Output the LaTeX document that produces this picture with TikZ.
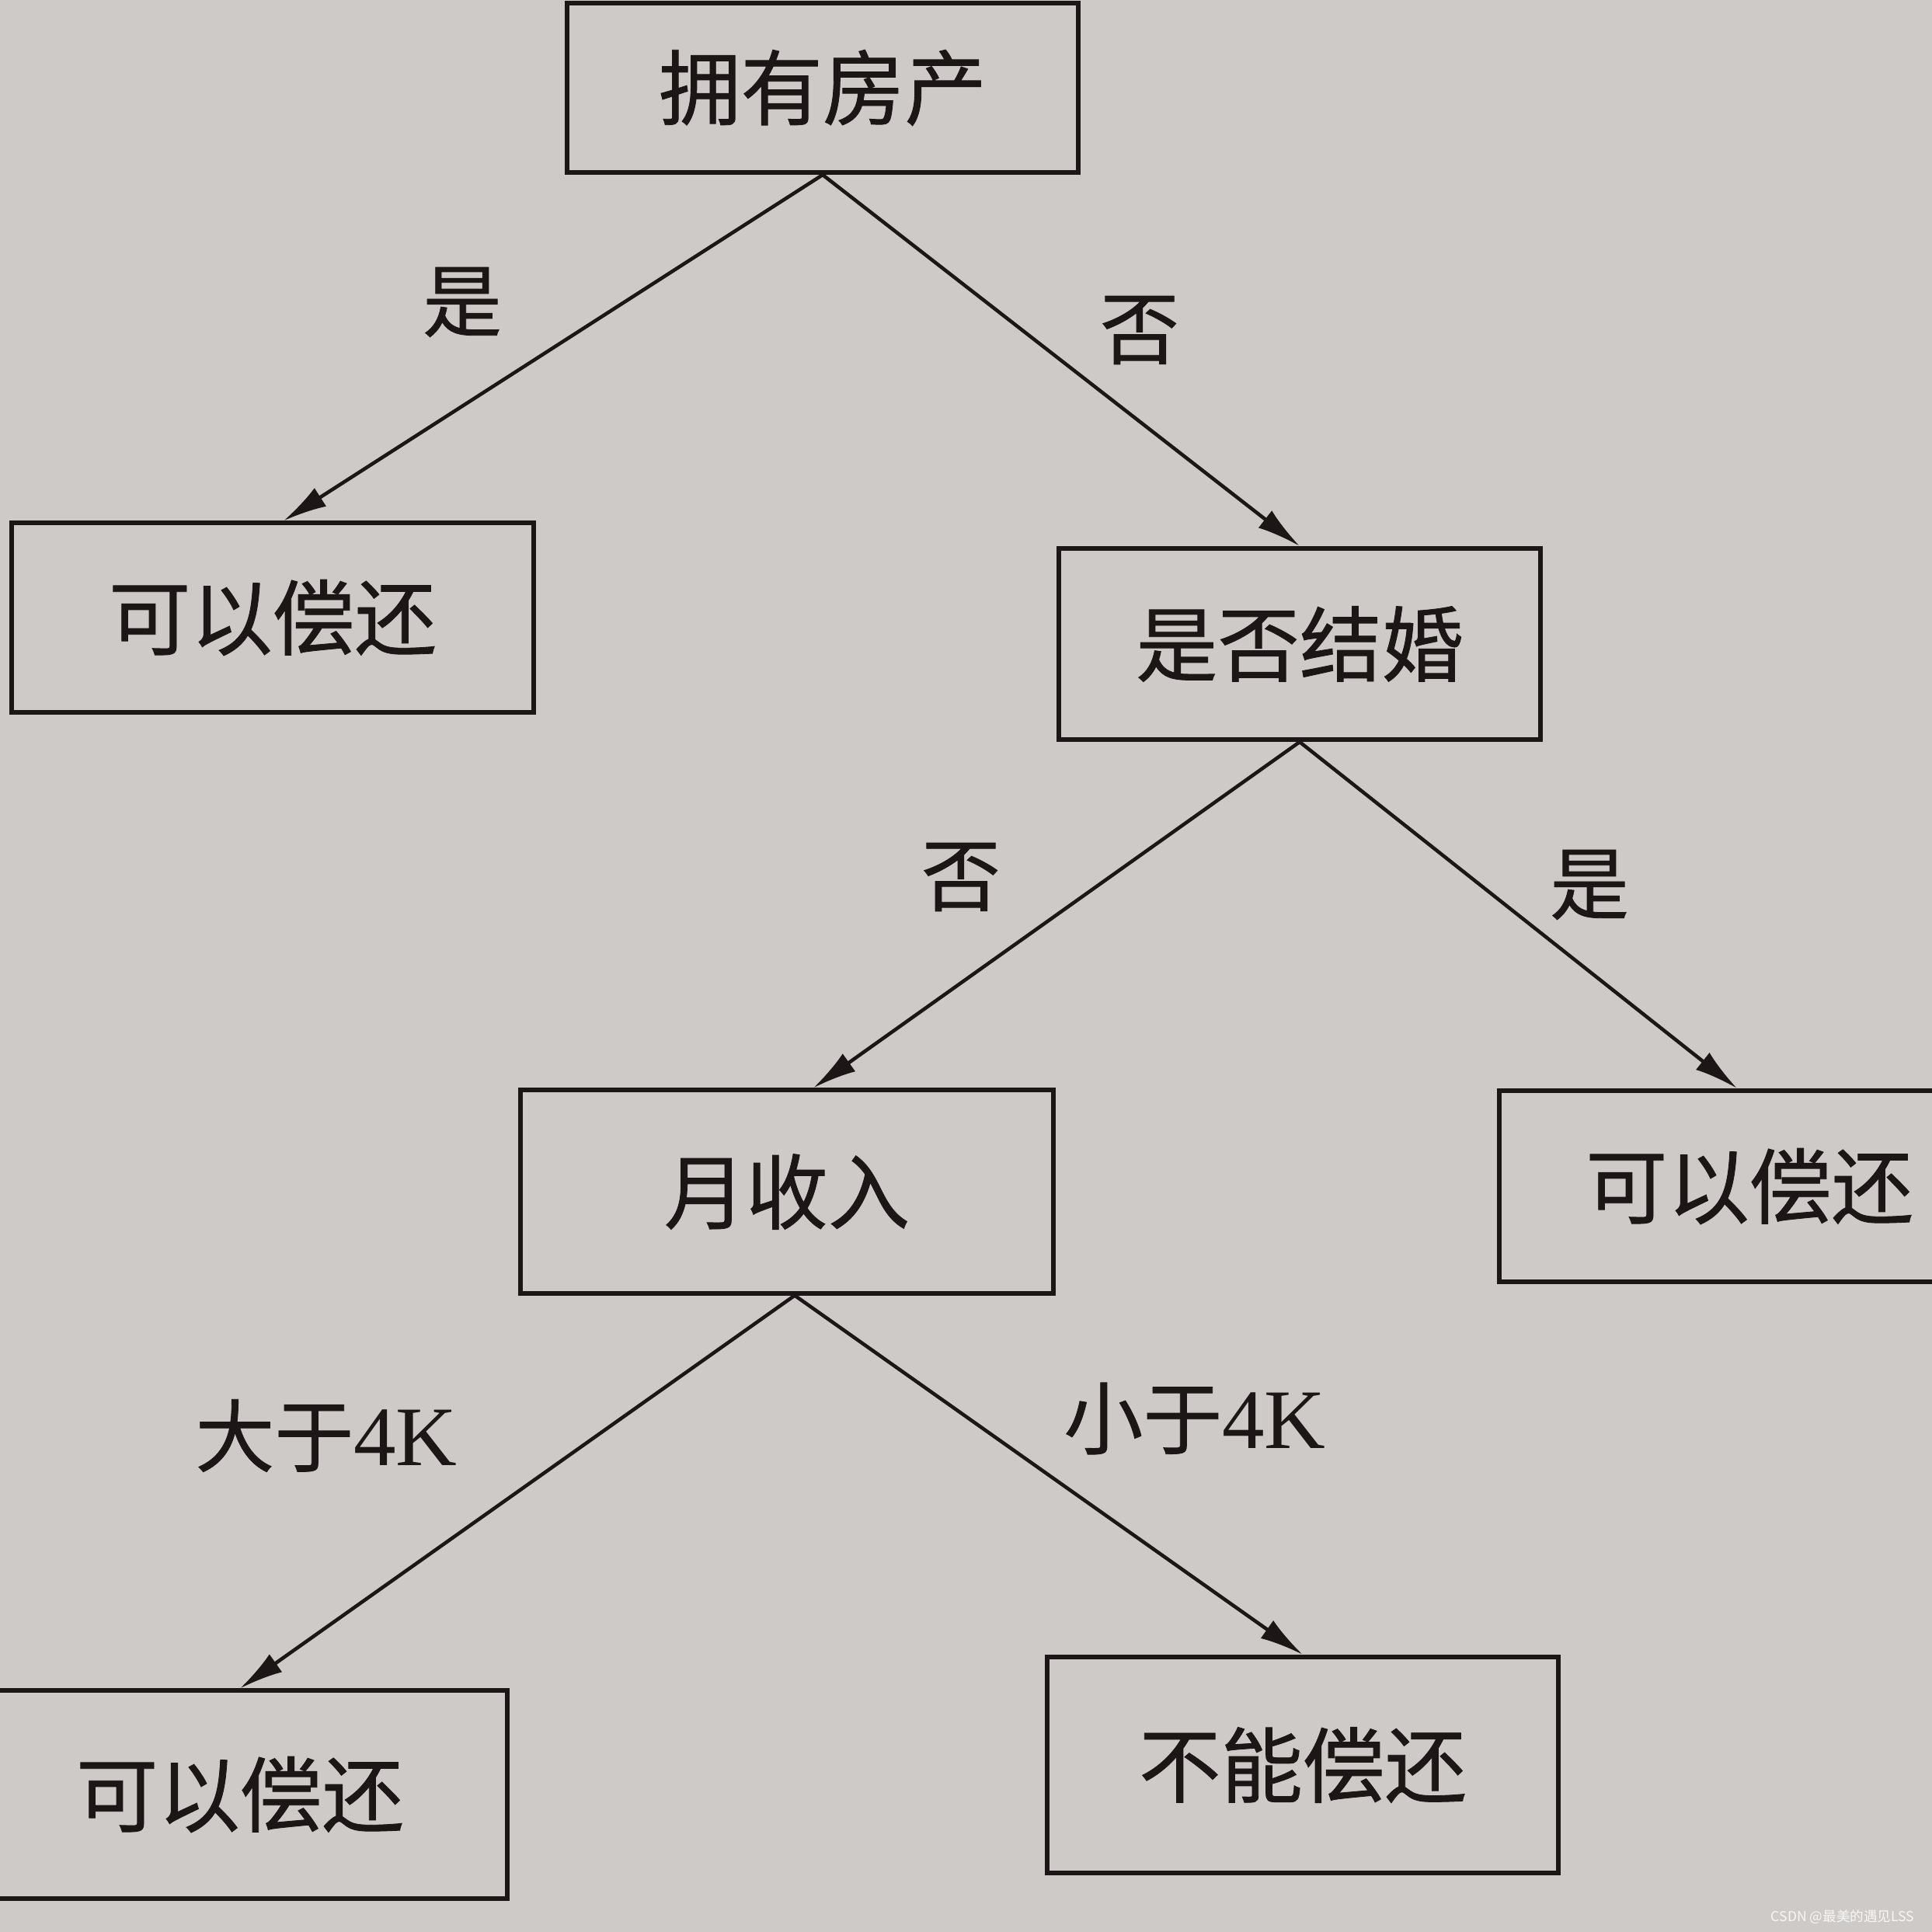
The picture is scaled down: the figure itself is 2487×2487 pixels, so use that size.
\documentclass[tikz,border=0pt]{standalone}
\usepackage{fontspec}
\setmainfont{Liberation Serif}
\newfontfamily\cjk[FakeBold=0.8]{Noto Sans CJK SC}
\usepackage{xcolor}
\usetikzlibrary{arrows.meta,positioning}

\definecolor{paper}{RGB}{206,202,199}
\definecolor{ink}{RGB}{28,22,22}

\begin{document}
\begin{tikzpicture}[
    x=0.01cm, y=-0.01cm,
    box/.style={draw=ink, line width=1.7pt, inner sep=0pt, align=center,
                text=ink, font=\cjk\fontsize{30}{30}\selectfont},
    arr/.style={-{Latex[length=16pt,width=8pt]}, draw=ink, line width=1.3pt},
    lbl/.style={text=ink, inner sep=0pt, font=\cjk\fontsize{29}{29}\selectfont}
  ]
    \useasboundingbox (0,0) rectangle (2487,2487);
    \clip (0,0) rectangle (2487,2487);
    \fill[paper] (0,0) rectangle (2487,2487);
    % nodes
    \node[box, minimum width=6.58cm, minimum height=2.18cm] (house) at (1059,113) {拥有房产};
    \node[box, minimum width=6.71cm, minimum height=2.43cm] (repayA) at (351,795) {可以偿还};
    \node[box, minimum width=6.19cm, minimum height=2.46cm] (married) at (1673,829) {是否结婚};
    \node[box, minimum width=6.85cm, minimum height=2.61cm] (income) at (1013,1534) {月收入};
    \node[box, minimum width=6.44cm, minimum height=2.46cm] (repayB) at (2252,1527) {可以偿还};
    \node[box, minimum width=6.88cm, minimum height=2.67cm] (repayC) at (309,2310) {可以偿还};
    \node[box, minimum width=6.58cm, minimum height=2.78cm] (norepay) at (1677,2272) {不能偿还};
    % edges
    \draw[arr] (house.south) -- ([xshift=0.14cm]repayA.north);
    \draw[arr] (house.south) -- (married.north);
    \draw[arr] (married.south) -- ([xshift=0.34cm]income.north);
    \draw[arr] (married.south) -- ([xshift=-0.16cm]repayB.north);
    \draw[arr] ([xshift=0.1cm]income.south) -- (repayC.north);
    \draw[arr] ([xshift=0.1cm]income.south) -- (norepay.north);
    % edge labels
    \node[lbl] (yesA) at (595,389) {是};
    \node[lbl] (noA) at (1467,425) {否};
    \node[lbl] (noB) at (1237,1129) {否};
    \node[lbl] (yesB) at (2046,1139) {是};
    \node[lbl] (gt) at (420,1848) {大于\fontspec{Liberation Serif}\fontsize{31}{31}\selectfont 4K};
    \node[lbl] (lt) at (1538,1826) {小于\fontspec{Liberation Serif}\fontsize{31}{31}\selectfont 4K};
    \node[text=white!85!paper, inner sep=0pt, font=\fontspec{Noto Sans CJK SC}\fontsize{5}{5}\selectfont] (mark) at (2372,2468) {CSDN @最美的遇见LSS};
  \end{tikzpicture}
\end{document}
